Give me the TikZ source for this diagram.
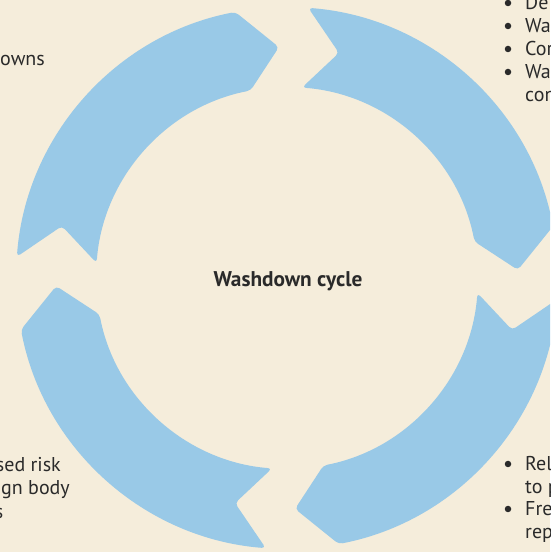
\documentclass[tikz,border=0pt]{standalone}
\usepackage{fontspec}
\setmainfont{PT Sans}
\definecolor{cycleblue}{HTML}{99C9E7}
\definecolor{cyclebg}{HTML}{F5EDDB}
\definecolor{cycletext}{HTML}{2A2A2A}

\begin{document}
\begin{tikzpicture}[x=1pt,y=1pt,
  every node/.style={inner sep=0pt,text=cycletext,font=\fontsize{20}{23}\selectfont},
  segment/.style={fill=cycleblue,rounded corners=4pt,shift={(287,274)}},
  dot/.style={circle,fill=cycletext,minimum size=6.5pt},
  lineright/.style={anchor=base west},
  lineleft/.style={anchor=base east}]
\fill[cyclebg] (0,0) rectangle (550,552);
\clip (0,0) rectangle (550,552);

\fill[segment] (175.5:271) arc[start angle=175.5,end angle=101,radius=271] -- (92:231) -- (101:191)
  arc[start angle=101,end angle=175.5,radius=191] -- (167:231) -- cycle;
\fill[segment] (85.5:271) arc[start angle=85.5,end angle=11,radius=271] -- (2:231) -- (11:191)
  arc[start angle=11,end angle=85.5,radius=191] -- (77:231) -- cycle;
\fill[segment] (-4.5:271) arc[start angle=-4.5,end angle=-79,radius=271] -- (-88:231) -- (-79:191)
  arc[start angle=-79,end angle=-4.5,radius=191] -- (-13:231) -- cycle;
\fill[segment] (-94.5:271) arc[start angle=-94.5,end angle=-169,radius=271] -- (-178:231) -- (-169:191)
  arc[start angle=-169,end angle=-94.5,radius=191] -- (-103:231) -- cycle;

\node(title) at (288, 265) [anchor=base,font=\bfseries\fontsize{21.3}{24}\selectfont] {Washdown cycle};

\node(tr1dot) at (508, 549) [dot] {};
\node(tr1) at (525, 542) [lineright] {De};
\node(tr2dot) at (508, 526) [dot] {};
\node(tr2) at (525, 519) [lineright] {Wa};
\node(tr3dot) at (508, 503) [dot] {};
\node(tr3) at (525, 496) [lineright] {Cor};
\node(tr4dot) at (508, 480) [dot] {};
\node(tr4) at (525, 473) [lineright] {Wa};
\node(tr5) at (525, 450) [lineright] {con};

\node(br1dot) at (508, 88) [dot] {};
\node(br1) at (525, 81) [lineright] {Rel};
\node(br2) at (525, 58) [lineright] {to p};
\node(br3dot) at (508, 43) [dot] {};
\node(br3) at (525, 36) [lineright] {Fre};
\node(br4) at (525, 13) [lineright] {rep};

\node(tl1) at (45, 486) [lineleft] {owns};

\node(bl1) at (61, 80) [lineleft] {sed risk};
\node(bl2) at (70, 57) [lineleft] {ign body};
\node(bl3) at (3.5, 34) [lineleft] {s};
\end{tikzpicture}
\end{document}
